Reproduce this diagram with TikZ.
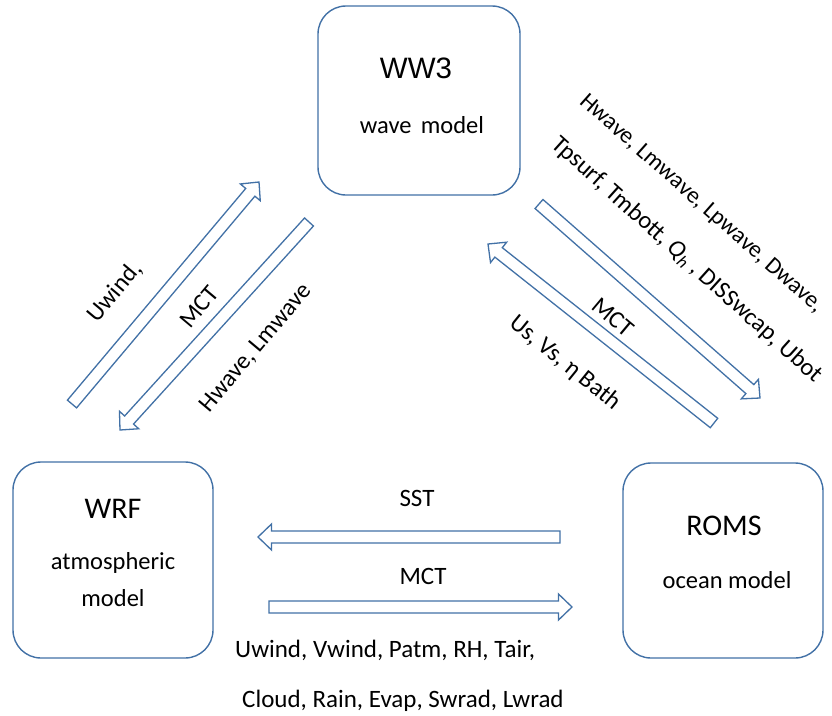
\documentclass[tikz,border=0pt]{standalone}
\usepackage{fontspec}
\setmainfont{Carlito}
\newfontfamily\arialfont{Liberation Sans}
\usetikzlibrary{calc}
\definecolor{boxblue}{RGB}{66,113,166}
\newcommand{\arw}{6pt}
\newcommand{\arhw}{13pt}
\newcommand{\arhl}{13.5pt}
% block arrow: name, tail, tip
\newcommand{\blockarr}[3]{%
  \coordinate (#1c) at ($(#3)!\arhl!(#2)$);
  \draw[barrow] ($(#2)!\arw!90:(#3)$) -- ($(#1c)!\arw!-90:(#2)$) -- ($(#1c)!\arhw!-90:(#2)$) -- (#3)
     -- ($(#1c)!\arhw!90:(#2)$) -- ($(#1c)!\arw!90:(#2)$) -- ($(#2)!\arw!-90:(#3)$) -- cycle;
}
\tikzset{
  modelbox/.style={draw=boxblue, line width=1.4pt, rounded corners=28pt, fill=white},
  barrow/.style={draw=boxblue, line width=1.3pt, line join=miter, fill=white},
  lbl/.style={font=\fontsize{25}{29}\selectfont, inner sep=0pt},
  dlbl/.style={font=\fontsize{24.5}{28}\selectfont, inner sep=0pt},
  ttl/.style={font=\fontsize{30}{34}\selectfont, inner sep=0pt},
  sub/.style={font=\fontsize{24.5}{28}\selectfont, inner sep=0pt, align=center},
}
\begin{document}
\begin{tikzpicture}[x=1pt, y=-1pt]
\useasboundingbox[fill=white] (0,0) rectangle (832,715);
% model boxes
\node[modelbox, minimum width=202pt, minimum height=189pt] (ww3) at (419,100.5) {};
\node[modelbox, minimum width=200pt, minimum height=196pt] (wrf) at (113,560) {};
\node[modelbox, minimum width=200pt, minimum height=195pt] (roms) at (723,560.5) {};
% titles
\node[inner sep=0pt, font=\arialfont\fontsize{29.5}{33}\selectfont] (ww3t) at (416,68) {WW3};
\node[sub] (ww3s) at (422,125) {wave\hspace{0.38em}model};
\node[ttl] (wrft) at (113,509) {WRF};
\node[sub] (wrfs1) at (113,563) {atmospheric};
\node[sub] (wrfs2) at (113,598) {model};
\node[ttl] (romst) at (724,526) {ROMS};
\node[sub] (romss) at (727,580) {ocean\ model};
% arrow end points
\coordinate (sstT) at (560,537); \coordinate (sstH) at (258,537);
\coordinate (mctT) at (269,607); \coordinate (mctH) at (572,607);
\coordinate (a1T) at (72,404);  \coordinate (a1H) at (259,182);
\coordinate (a2T) at (309,222); \coordinate (a2H) at (120,430);
\coordinate (a3T) at (539,204); \coordinate (a3H) at (760,398);
\coordinate (a4T) at (714,423); \coordinate (a4H) at (488,244);
\blockarr{sst}{sstT}{sstH}
\blockarr{mct}{mctT}{mctH}
\blockarr{aa}{a1T}{a1H}
\blockarr{ab}{a2T}{a2H}
\blockarr{ac}{a3T}{a3H}
\blockarr{ad}{a4T}{a4H}
% horizontal labels
\node[lbl] (sstl) at (417,498) {SST};
\node[lbl] (mctl) at (423,576) {MCT};
\node[lbl, anchor=base west] (vars1) at (235,657) {Uwind, Vwind, Patm, RH, Tair,};
\node[lbl, anchor=base west] (vars2) at (242,707) {Cloud, Rain, Evap, Swrad, Lwrad};
% left diagonal labels
\node[dlbl, rotate=50] (uw) at (115,292) {Uwind,};
\node[dlbl, rotate=50] (mctlft) at (199,307) {MCT};
\node[dlbl, rotate=50] (hwl) at (256,348) {Hwave, Lmwave};
% right diagonal labels
\node[dlbl, font=\fontsize{23.5}{27}\selectfont, rotate=-41.5] (hwr) at (701,204) {Hwave, Lmwave, Lpwave, Dwave,};
\node[dlbl, rotate=-42] (tps) at (687,260) {Tpsurf, Tmbott, {\itshape Q}\textsubscript{\itshape h} , DISSwcap, Ubot};
\node[dlbl, rotate=-40] (mctr) at (613,317) {MCT};
\node[dlbl, rotate=-39] (usv) at (565,363) {Us, Vs, η Bath};
\end{tikzpicture}
\end{document}
